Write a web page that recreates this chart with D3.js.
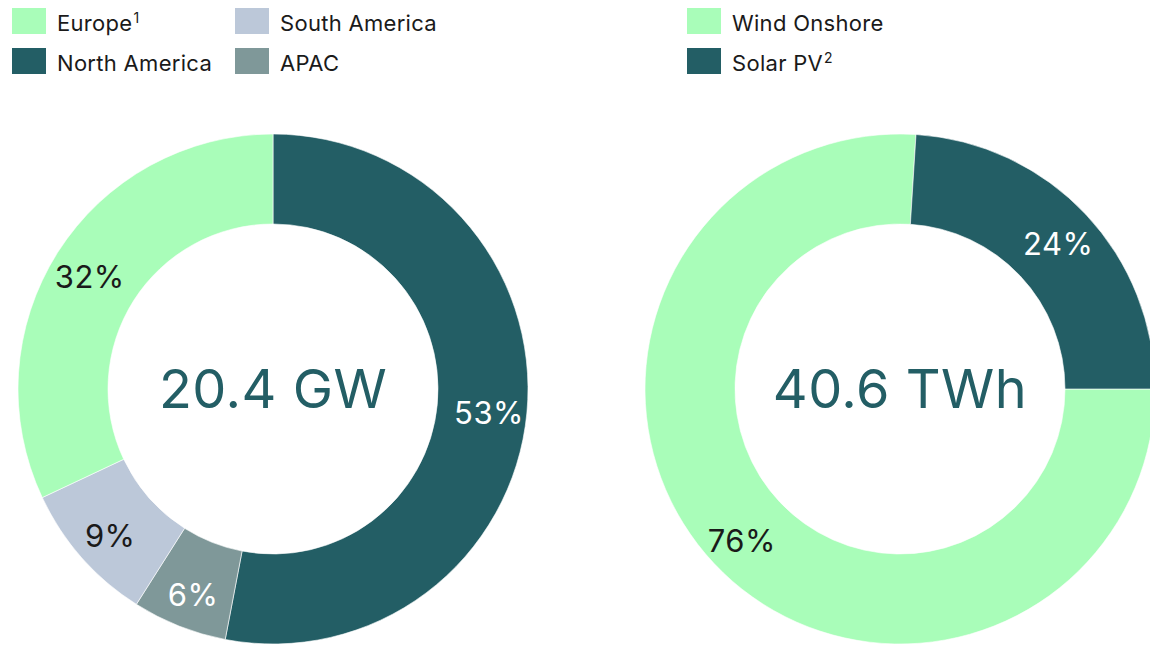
<!DOCTYPE html>
<html lang="en">
<head>
  <meta charset="UTF-8">
  <title>Capacity and production</title>
  <style>
    body { margin: 0; background: #fff; }
    text { font-family: Inter, "Noto Sans", sans-serif; }
  </style>
</head>
<body>
  <svg width="1150" height="646"></svg>
  <script src="https://d3js.org/d3.v7.min.js"></script>
  <script>

  // left donut: installed capacity by region
  var regionNames = ['North America', 'APAC', 'South America', 'Europe'];
  var regionShares = [53, 6, 9, 32];
  var regionColors = ['#235e65', '#7f9899', '#bcc8d9', '#a9fdb9'];
  var regionLabelColors = ['#fff', '#fff', '#1a1a1a', '#1a1a1a'];
  var capacityTotal = '20.4 GW';

  // right donut: production by technology
  var techNames = ['Wind Onshore', 'Solar PV'];
  var techShares = [76, 24];
  var techColors = ['#a9fdb9', '#235e65'];
  var techLabelColors = ['#1a1a1a', '#fff'];
  var productionTotal = '40.6 TWh';

  // legends (order as shown)
  var leftLegend = [
    { name: 'Europe', sup: '1', color: '#a9fdb9', col: 0, row: 0 },
    { name: 'North America', sup: '', color: '#235e65', col: 0, row: 1 },
    { name: 'South America', sup: '', color: '#bcc8d9', col: 1, row: 0 },
    { name: 'APAC', sup: '', color: '#7f9899', col: 1, row: 1 }
  ];
  var rightLegend = [
    { name: 'Wind Onshore', sup: '', color: '#a9fdb9', col: 0, row: 0 },
    { name: 'Solar PV', sup: '2', color: '#235e65', col: 0, row: 1 }
  ];

  var svg = d3.select('svg');

  var outerR = 255, innerR = 165;
  var arc = d3.arc().innerRadius(innerR).outerRadius(outerR);
  var labelArc = d3.arc().innerRadius(217).outerRadius(217);

  function donut(cx, cy, names, shares, colors, labelColors, total, start) {
    var g = svg.append('g').attr('transform', 'translate(' + cx + ',' + cy + ')');
    var pie = d3.pie().sort(null)
      .startAngle(start).endAngle(start + 2 * Math.PI);
    var arcs = pie(shares);

    g.selectAll('path')
      .data(arcs)
      .enter()
      .append('path')
      .attr('d', arc)
      .attr('fill', function(d, i) { return colors[i]; })
      .attr('stroke', '#fff')
      .attr('stroke-width', 0.6);

    g.selectAll('text.pct')
      .data(arcs)
      .enter()
      .append('text')
      .attr('class', 'pct')
      .attr('transform', function(d) { return 'translate(' + labelArc.centroid(d) + ')'; })
      .attr('text-anchor', 'middle')
      .attr('dy', '0.48em')
      .attr('font-size', 31)
      .attr('letter-spacing', 0.5)
      .attr('fill', function(d, i) { return labelColors[i]; })
      .text(function(d) { return d.data + '%'; });

    g.append('text')
      .attr('text-anchor', 'middle')
      .attr('dy', '0.36em')
      .attr('font-size', 54)
      .attr('letter-spacing', 0.5)
      .attr('fill', '#235e65')
      .text(total);
  }

  donut(273, 389, regionNames, regionShares, regionColors, regionLabelColors, capacityTotal, 0);
  donut(900, 389, techNames, techShares, techColors, techLabelColors, productionTotal, Math.PI / 2);

  function legend(x0, items) {
    var g = svg.append('g');
    var item = g.selectAll('g')
      .data(items)
      .enter()
      .append('g')
      .attr('transform', function(d) { return 'translate(' + (x0 + d.col * 223) + ',' + (8 + d.row * 40) + ')'; });

    item.append('rect')
      .attr('width', 34)
      .attr('height', 26)
      .attr('fill', function(d) { return d.color; });

    var t = item.append('text')
      .attr('x', 45)
      .attr('y', 23)
      .attr('font-size', 22)
      .attr('letter-spacing', 0.3)
      .attr('fill', '#1a1a1a');
    t.append('tspan').text(function(d) { return d.name; });
    t.append('tspan')
      .attr('font-size', 14)
      .attr('dy', -8)
      .attr('dx', 1)
      .text(function(d) { return d.sup; });
  }

  legend(12, leftLegend);
  legend(687, rightLegend);

  </script>
</body>
</html>
